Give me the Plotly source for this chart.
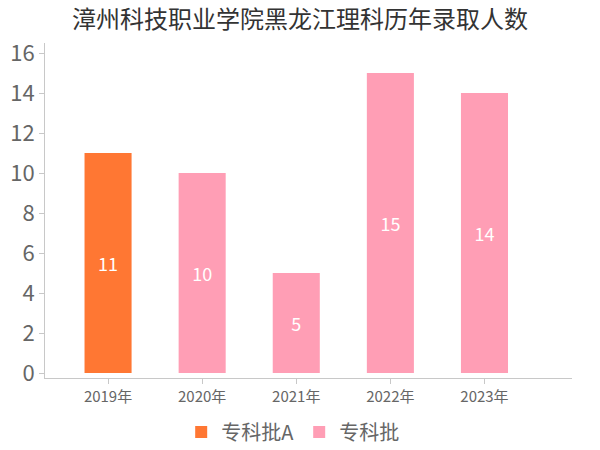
import plotly.graph_objects as go

# data
years = ["2019年", "2020年", "2021年", "2022年", "2023年"]
batch_a_years = ["2019年"]
batch_a_values = [11]
batch_years = ["2020年", "2021年", "2022年", "2023年"]
batch_values = [10, 5, 15, 14]

ORANGE = "#FF7733"
PINK = "#FF9EB5"
FONT = "Noto Sans CJK SC, sans-serif"
AXIS_GREY = "#C8C8C8"
TEXT_GREY = "#666666"

fig = go.Figure()

fig.add_trace(go.Bar(
    name="专科批A",
    x=batch_a_years,
    y=batch_a_values,
    marker=dict(color=ORANGE, line=dict(width=0)),
    text=batch_a_values,
    textposition="inside",
    insidetextanchor="middle",
    textfont=dict(color="white", size=18),
    width=0.5,
))

fig.add_trace(go.Bar(
    name="专科批",
    x=batch_years,
    y=batch_values,
    marker=dict(color=PINK, line=dict(width=0)),
    text=batch_values,
    textposition="inside",
    insidetextanchor="middle",
    textfont=dict(color="white", size=18),
    width=0.5,
))

fig.update_layout(
    width=600,
    height=450,
    font=dict(family=FONT, color=TEXT_GREY),
    paper_bgcolor="white",
    plot_bgcolor="white",
    barmode="overlay",
    margin=dict(t=43, b=72, l=45, r=28, autoexpand=False),
    title=dict(
        text="漳州科技职业学院黑龙江理科历年录取人数",
        font=dict(size=24, color="#333333"),
        x=0.5,
        xanchor="center",
        y=0.976,
        yanchor="top",
    ),
    xaxis=dict(
        categoryorder="array",
        categoryarray=years,
        range=[-0.67, 4.93],
        showline=True,
        linecolor=AXIS_GREY,
        ticks="outside",
        tickcolor=AXIS_GREY,
        ticklen=5,
        tickfont=dict(size=15, color=TEXT_GREY),
        showgrid=False,
        automargin=False,
    ),
    yaxis=dict(
        range=[-0.25, 16.5],
        dtick=2,
        showline=True,
        linecolor=AXIS_GREY,
        ticks="outside",
        tickcolor=AXIS_GREY,
        ticklen=5,
        tickfont=dict(size=22, color=TEXT_GREY),
        showgrid=False,
        zeroline=False,
        automargin=False,
    ),
    legend=dict(
        orientation="h",
        x=0.47,
        xanchor="center",
        yref="container",
        y=0.04,
        yanchor="middle",
        font=dict(size=20, color=TEXT_GREY),
        itemwidth=30,
        tracegroupgap=0,
    ),
    showlegend=True,
)

# drop the browser's default body margin so the figure sits at the top-left
fig.write_html(
    "out.html",
    config={"displayModeBar": False},
    post_script="document.body.style.margin='0';",
)
